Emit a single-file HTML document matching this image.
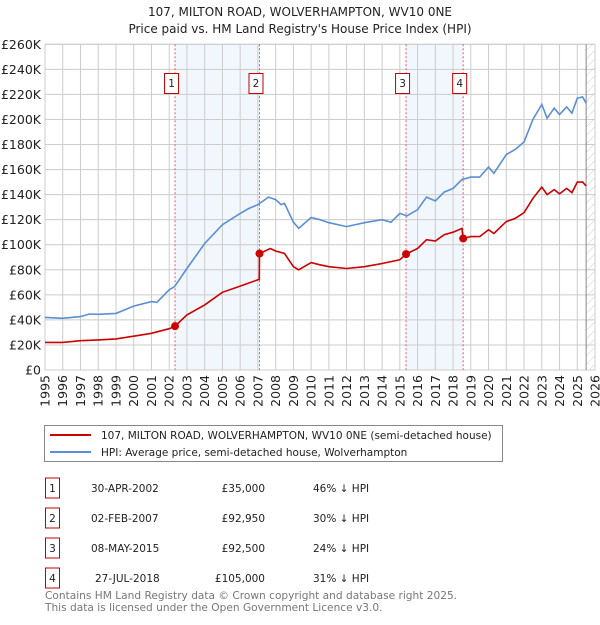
<!DOCTYPE html>
<html><head><meta charset="utf-8"><style>
body{margin:0;background:#fff;font-family:"Liberation Sans","DejaVu Sans",sans-serif;}
svg text{font-family:"DejaVu Sans","Liberation Sans",sans-serif;}
</style></head><body>
<svg id="c" width="600" height="620" viewBox="0 0 600 620" xmlns="http://www.w3.org/2000/svg">
<text x="300" y="16" text-anchor="middle" font-size="12" fill="#222">107, MILTON ROAD, WOLVERHAMPTON, WV10 0NE</text>
<text x="300" y="33" text-anchor="middle" font-size="12" fill="#222">Price paid vs. HM Land Registry's House Price Index (HPI)</text>
<g id="plot"></g>
<g>
<rect x="44.5" y="425.5" width="458" height="36" fill="#fff" stroke="#888"/>
<line x1="50" y1="435" x2="91" y2="435" stroke="#cc0000" stroke-width="2"/>
<text x="101" y="439" font-size="10.5" fill="#222">107, MILTON ROAD, WOLVERHAMPTON, WV10 0NE (semi-detached house)</text>
<line x1="50" y1="452" x2="91" y2="452" stroke="#5b8fd4" stroke-width="2"/>
<text x="101" y="456" font-size="10.5" fill="#222">HPI: Average price, semi-detached house, Wolverhampton</text>
</g>
<g id="table" font-size="10.5" fill="#222"></g>
<text x="45" y="599" font-size="10.6" fill="#777">Contains HM Land Registry data © Crown copyright and database right 2025.</text>
<text x="45" y="611" font-size="10.6" fill="#777">This data is licensed under the Open Government Licence v3.0.</text>
</svg>
<script>
const hpiYears=[1995,1996,1997,1997.5,1998,1999,2000,2001,2001.3,2002,2002.3,2003,2004,2005,2006,2006.5,2007,2007.6,2008,2008.3,2008.5,2009,2009.3,2010,2010.5,2011,2012,2013,2014,2014.5,2015,2015.4,2016,2016.5,2017,2017.5,2018,2018.5,2019,2019.5,2020,2020.3,2021,2021.5,2022,2022.5,2023,2023.3,2023.7,2024,2024.4,2024.7,2025,2025.3,2025.5];
const hpiValues=[42,41.3,42.6,44.7,44.5,45.2,51,54.6,54,64,66.5,81,101,116,125,129,132,138,136,132,133,118,113,121.7,120,117.6,114.5,117.6,120,118,125,123,128,138,135,142,145,152,154,154,162,157,172,176,182,200,212,201,209,204,210,205,217,218,213];
const ppYears=[1995,1996,1997,1998,1999,2000,2001,2002,2002.33,2003,2004,2005,2006,2007.08,2007.09,2007.7,2008,2008.5,2009,2009.3,2010,2010.5,2011,2012,2013,2014,2015,2015.35,2016,2016.5,2017,2017.5,2018,2018.5,2018.57,2019,2019.5,2020,2020.3,2021,2021.5,2022,2022.5,2023,2023.3,2023.7,2024,2024.4,2024.7,2025,2025.3,2025.5];
const ppValues=[22,22,23.4,24,24.8,27,29.3,33,35,44,52,62,67,72.4,92.95,97,95,93,82.5,80,85.7,84,82.5,81,82.5,85,88,92.5,97,104,103,108,110,113,105,106.5,106.5,112,109,118.5,121,125.6,137,146,140,144,140.6,145,141.6,150,150,147];
const saleLabels=["1","2","3","4"];
const saleYears=[2002.33,2007.09,2015.35,2018.57];
const saleValues=[35,92.95,92.5,105];
const saleDates=["30-APR-2002","02-FEB-2007","08-MAY-2015","27-JUL-2018"];
const salePrices=["£35,000","£92,950","£92,500","£105,000"];
const saleDiffs=["46% ↓ HPI","30% ↓ HPI","24% ↓ HPI","31% ↓ HPI"];
const yTicks=[0,20,40,60,80,100,120,140,160,180,200,220,240,260];
const xTicks=[1995,1996,1997,1998,1999,2000,2001,2002,2003,2004,2005,2006,2007,2008,2009,2010,2011,2012,2013,2014,2015,2016,2017,2018,2019,2020,2021,2022,2023,2024,2025,2026];

const NS="http://www.w3.org/2000/svg";
const L=45,R=595,T=44.3,B=370;
const xs=y=>L+(y-1995)/(2026-1995)*(R-L);
const ys=v=>B-v/260*(B-T);
const g=document.getElementById('plot');
function el(tag,attrs,parent){const e=document.createElementNS(NS,tag);for(const k in attrs)e.setAttribute(k,attrs[k]);(parent||g).appendChild(e);return e;}

for(let i=0;i<saleYears.length;i+=2){
  const r=el('rect',{x:xs(saleYears[i]),y:T,width:xs(saleYears[i+1])-xs(saleYears[i]),height:B-T,fill:'#f2f6fd'});
  
  
}
const defs=el('defs',{});
const pat=el('pattern',{id:'h',width:6,height:6,patternUnits:'userSpaceOnUse',patternTransform:'rotate(45)'},defs);
el('line',{x1:0,y1:0,x2:0,y2:6,stroke:'#ccc','stroke-width':1},pat);
const hr=el('rect',{x:xs(2025.5),y:T,width:R-xs(2025.5),height:B-T,fill:'url(#h)'});


yTicks.forEach(v=>{
  const ln=el('line',{x1:L,x2:R,y1:ys(v),y2:ys(v),stroke:'#ccc','stroke-width':1});
  
  
  const t=el('text',{x:L-4,y:ys(v)+4.5,'text-anchor':'end','font-size':12.5,fill:'#222'});
  t.textContent=v===0?'£0':'£'+v+'K';
  
  
});
xTicks.forEach(y=>{
  const ln=el('line',{x1:xs(y),x2:xs(y),y1:T,y2:B,stroke:'#ccc','stroke-width':1});
  
  
  const t=el('text',{x:0,y:0,'text-anchor':'end','font-size':12.5,fill:'#222',transform:`translate(${xs(y)+4.5},${B+5}) rotate(-90)`});
  t.textContent=y;
  
  
});
el('rect',{x:L,y:T,width:R-L,height:B-T,fill:'none',stroke:'#ccc'});
el('line',{x1:xs(2025.5),x2:xs(2025.5),y1:T,y2:B,stroke:'#888','stroke-width':1});
saleYears.forEach((y,i)=>{
  const ln=el('line',{x1:xs(y),x2:xs(y),y1:T,y2:B,stroke:'#e06060','stroke-width':1,'stroke-dasharray':'2,2'});
  
  
  const b=el('rect',{x:xs(y)-10.5,y:73.5,width:14,height:20,fill:'#fff',stroke:'#c00000'});
  
  
  const t=el('text',{x:xs(y)-3.5,y:87,'text-anchor':'middle','font-size':10.5,fill:'#222'});
  t.textContent=saleLabels[i];
  
  
});
function path(xa,va,color,name){
  const p=el('path',{d:xa.map((x,i)=>(i?'L':'M')+xs(x).toFixed(1)+','+ys(va[i]).toFixed(1)).join(''),fill:'none',stroke:color,'stroke-width':1.6});
  
  
}
path(hpiYears,hpiValues,'#5b8fd4','hpi-line');
path(ppYears,ppValues,'#cc0000','price-paid-line');
saleYears.forEach((y,i)=>{
  const c=el('circle',{cx:xs(y),cy:ys(saleValues[i]),r:4,fill:'#cc0000'});
  
  
});
const tb=document.getElementById('table');
saleLabels.forEach((s,i)=>{
  const cy=488+i*30;
  const r=el('rect',{x:45.5,y:cy-10,width:14,height:20,fill:'#fff',stroke:'#c00000'},tb);
  
  
  const vals=[[52.5,s,'middle'],[i===3?95:91,saleDates[i],'start'],[265,salePrices[i],'end'],[313,saleDiffs[i],'start']];
  vals.forEach(v=>{
    const t=el('text',{x:v[0],y:cy+4,'text-anchor':v[2]},tb);
    t.textContent=v[1];
    
    
  });
});
</script>
</body></html>
